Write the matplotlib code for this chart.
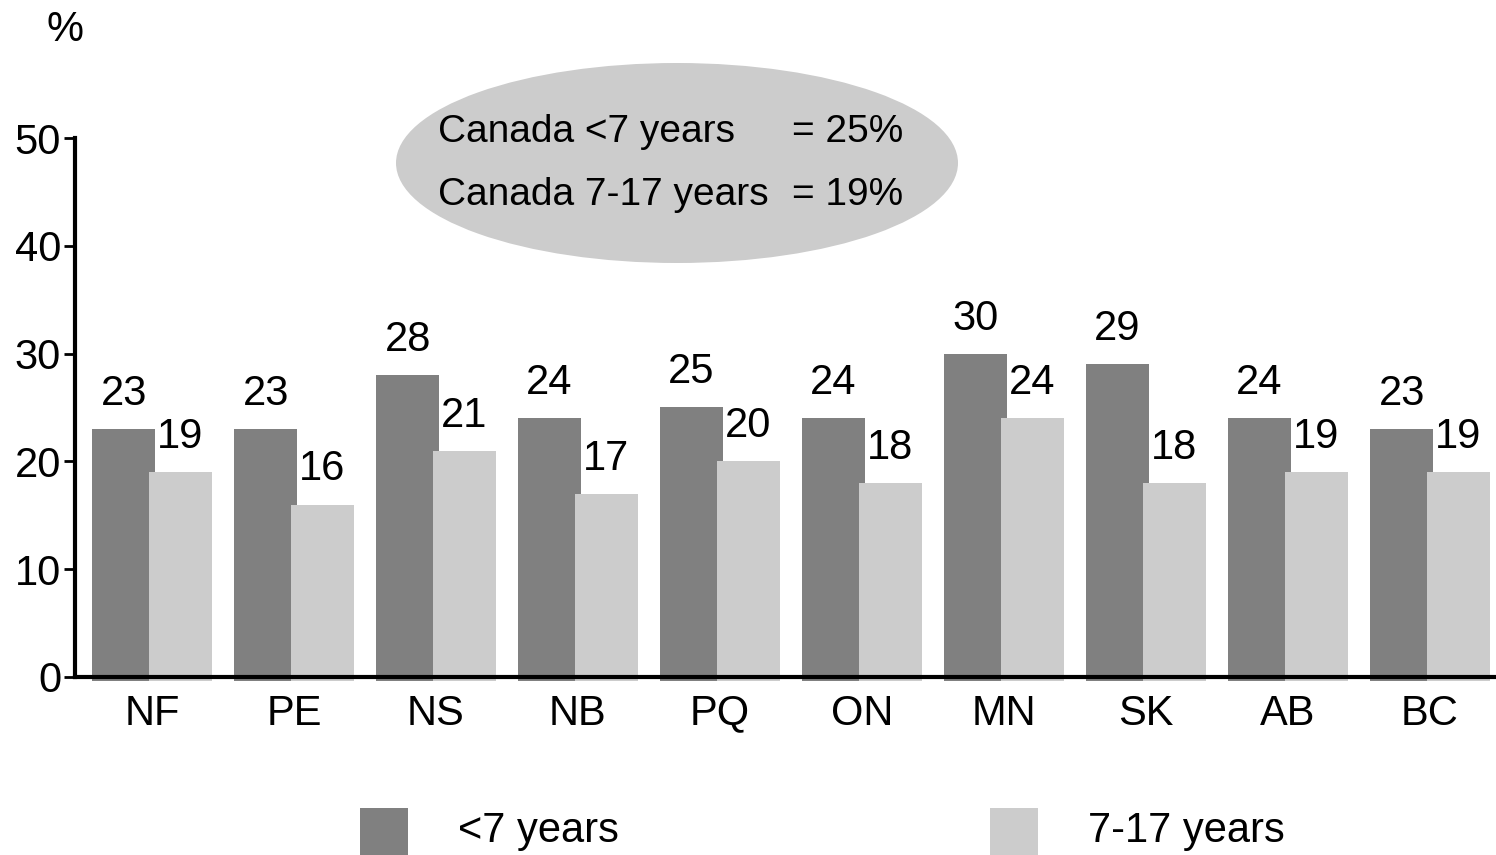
import numpy as np
import matplotlib
matplotlib.use("Agg")
import matplotlib.pyplot as plt
from matplotlib.patches import Ellipse, Rectangle

plt.rcParams['font.family'] = ['Liberation Sans', 'DejaVu Sans']

# data
provinces = ["NF", "PE", "NS", "NB", "PQ", "ON", "MN", "SK", "AB", "BC"]
under7 = [23, 23, 28, 24, 25, 24, 30, 29, 24, 23]
age7_17 = [19, 16, 21, 17, 20, 18, 24, 18, 19, 19]
series_names = ["<7 years", "7-17 years"]
canada_labels = ["Canada <7 years", "Canada 7-17 years"]
canada_values = ["= 25%", "= 19%"]

dark = "#808080"
light = "#cccccc"
fs = 30

fig = plt.figure(figsize=(14.96, 8.55), dpi=100)
ax = fig.add_axes([75 / 1496, 1 - 677 / 855, 1 - 75 / 1496, (677 - 138) / 855])

x = np.arange(len(provinces))
w = 0.444
off = 0.2
below = 0.35  # bars hang a little under the axis line

ax.bar(x - off, np.array(under7) + below, w, bottom=-below, color=dark, clip_on=False, zorder=2)
ax.bar(x + off, np.array(age7_17) + below, w, bottom=-below, color=light, clip_on=False, zorder=2)

for xi, v in zip(x, under7):
    ax.text(xi - off, v + 1.4, str(v), ha="center", va="bottom", fontsize=fs)
for xi, v in zip(x, age7_17):
    ax.text(xi + off, v + 1.4, str(v), ha="center", va="bottom", fontsize=fs)

ax.set_xlim((75 - 152) / 142, (1496 - 152) / 142)
ax.set_ylim(0, 50)
ax.set_yticks(range(0, 51, 10))
ax.set_xticks(x)
ax.set_xticklabels(provinces)
ax.tick_params(axis="y", labelsize=fs, length=8, width=2, pad=2)
ax.tick_params(axis="x", labelsize=fs, length=0, pad=12)

for s in ["top", "right"]:
    ax.spines[s].set_visible(False)
ax.spines["left"].set_linewidth(3)
ax.spines["bottom"].set_linewidth(3)
ax.spines["left"].set_zorder(3)
ax.spines["bottom"].set_zorder(3)

# % label
fig.text(65 / 1496, 1 - 30 / 855, "%", fontsize=fs, ha="center", va="center")

# ellipse with Canada averages
ell = Ellipse((677 / 1496, 1 - 163 / 855), 562 / 1496, 200 / 855,
              transform=fig.transFigure, facecolor=light, edgecolor="none", zorder=5)
fig.patches.append(ell)
for ty, lab, val in zip([132, 195], canada_labels, canada_values):
    fig.text(438 / 1496, 1 - ty / 855, lab, fontsize=fs - 2, va="center", ha="left", zorder=6)
    fig.text(792 / 1496, 1 - ty / 855, val, fontsize=fs - 2, va="center", ha="left", zorder=6)

# legend
for lx, tx, c, name in [(360, 458, dark, series_names[0]), (990, 1088, light, series_names[1])]:
    fig.patches.append(Rectangle((lx / 1496, 0), 48 / 1496, 47 / 855,
                                 transform=fig.transFigure, facecolor=c, edgecolor="none"))
    fig.text(tx / 1496, 1 - 831 / 855, name, fontsize=fs, va="center", ha="left")

fig.savefig("out.png", dpi=100)
